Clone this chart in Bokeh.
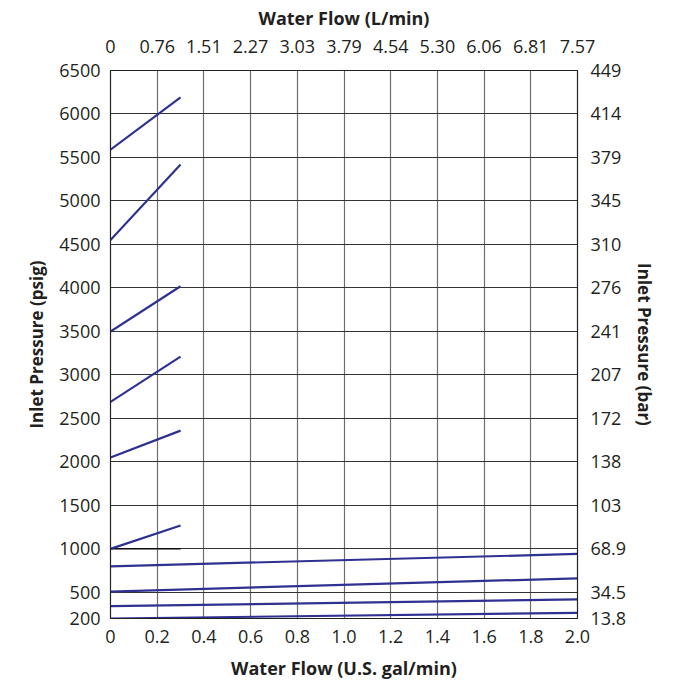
from bokeh.plotting import figure
from bokeh.models import ColumnDataSource, LinearAxis, FixedTicker, Range1d
from bokeh.embed import file_html
from bokeh.resources import INLINE

# ---- data ----
gpm_ticks = [0, 0.2, 0.4, 0.6, 0.8, 1.0, 1.2, 1.4, 1.6, 1.8, 2.0]
gpm_labels = ["0", "0.2", "0.4", "0.6", "0.8", "1.0", "1.2", "1.4", "1.6", "1.8", "2.0"]
lpm_labels = ["0", "0.76", "1.51", "2.27", "3.03", "3.79", "4.54", "5.30", "6.06", "6.81", "7.57"]
psi_ticks = [200, 500, 1000, 1500, 2000, 2500, 3000, 3500, 4000, 4500, 5000, 5500, 6000, 6500]
bar_labels = ["13.8", "34.5", "68.9", "103", "138", "172", "207", "241", "276", "310", "345", "379", "414", "449"]

short_flow_start = [0, 0, 0, 0, 0, 0]
short_flow_end = [0.3, 0.3, 0.3, 0.3, 0.3, 0.3]
short_psi_start = [5590, 4550, 3500, 2690, 2050, 1000]
short_psi_end = [6190, 5420, 4020, 3210, 2360, 1270]

long_flow_start = [0, 0, 0, 0]
long_flow_end = [2.0, 2.0, 2.0, 2.0]
long_psi_start = [800, 510, 342, 200]
long_psi_end = [942, 662, 419, 265]

ref_flow = [0, 0.3]
ref_psi = [1000, 1000]

FONT = "Open Sans"
TXT = "#231f20"
BLUE = "#2e3192"

p = figure(frame_width=467, frame_height=548,
           min_border_left=110, min_border_right=96, min_border_top=70, min_border_bottom=60,
           x_range=Range1d(0, 2.0), y_range=Range1d(200, 6500),
           output_backend="svg", toolbar_location=None, x_axis_location=None, y_axis_location=None)
p.outline_line_color = "#444444"

def style(ax, ticks, labels, title, title_size, standoff_lbl, standoff_title):
    ax.ticker = FixedTicker(ticks=ticks)
    ax.major_label_overrides = {t: l for t, l in zip(ticks, labels)}
    ax.axis_label = title
    ax.axis_label_text_font = FONT
    ax.axis_label_text_font_style = "bold"
    ax.axis_label_text_font_size = title_size
    ax.axis_label_text_color = TXT
    ax.major_label_text_font = FONT
    ax.major_label_text_font_size = "18px"
    ax.major_label_text_color = TXT
    ax.major_tick_line_color = None
    ax.minor_tick_line_color = None
    ax.major_label_standoff = standoff_lbl
    ax.axis_label_standoff = standoff_title
    ax.axis_line_color = "#222222"
    ax.axis_line_width = 1.2

bottom = LinearAxis()
style(bottom, gpm_ticks, gpm_labels, "Water Flow (U.S. gal/min)", "18px", 5, 10)
p.add_layout(bottom, "below")
top = LinearAxis()
style(top, gpm_ticks, lpm_labels, "Water Flow (L/min)", "18px", 12, 7)
p.add_layout(top, "above")
left = LinearAxis()
style(left, psi_ticks, [str(v) for v in psi_ticks], "Inlet Pressure (psig)", "17px", 4, 8)
p.add_layout(left, "left")
right = LinearAxis()
style(right, psi_ticks, bar_labels, "Inlet Pressure (bar)", "17px", 7, 4)
p.add_layout(right, "right")

p.xgrid.ticker = FixedTicker(ticks=gpm_ticks)
p.ygrid.ticker = FixedTicker(ticks=psi_ticks)
p.xgrid.grid_line_color = "#6e6e6e"
p.xgrid.grid_line_width = 1.2
p.ygrid.grid_line_color = "#333333"
p.ygrid.grid_line_width = 1

p.line(ref_flow, ref_psi, line_color="#000000", line_width=1.2)

short_src = ColumnDataSource(dict(x0=short_flow_start, x1=short_flow_end, y0=short_psi_start, y1=short_psi_end))
long_src = ColumnDataSource(dict(x0=long_flow_start, x1=long_flow_end, y0=long_psi_start, y1=long_psi_end))
p.segment("x0", "y0", "x1", "y1", source=short_src, line_color=BLUE, line_width=2.2)
p.segment("x0", "y0", "x1", "y1", source=long_src, line_color=BLUE, line_width=2.2)

open("out.html", "w").write(file_html(p, INLINE))
